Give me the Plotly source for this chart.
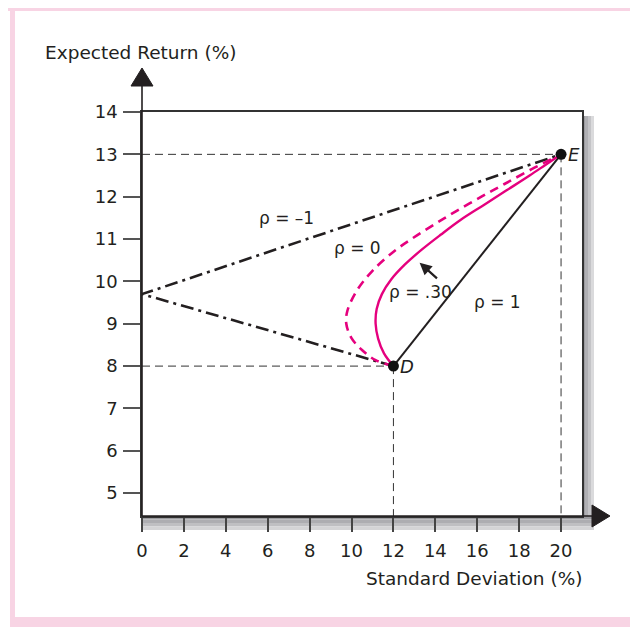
import plotly.graph_objects as go

# ---- data ----
asset_labels = ["D", "E"]
asset_sd = [12, 20]
asset_ret = [8, 13]

rho_neg1_sd = [12, 0, 20]
rho_neg1_ret = [8, 9.7, 13]

rho_pos1_sd = [12, 20]
rho_pos1_ret = [8, 13]

rho_0_sd = [12, 11.15, 10.5, 10.0, 9.75, 9.8, 10.25, 11.0, 12.05, 12.95, 14.0, 15.0, 16.2, 17.3, 18.6, 20]
rho_0_ret = [8, 8.14, 8.38, 8.66, 9.0, 9.3, 9.78, 10.25, 10.72, 11.03, 11.36, 11.66, 12.0, 12.3, 12.65, 13]

rho_03_sd = [12, 11.55, 11.27, 11.15, 11.2, 11.45, 11.9, 12.55, 13.35, 14.25, 15.2, 16.3, 17.4, 18.5, 19.25, 20]
rho_03_ret = [8, 8.3, 8.65, 9.0, 9.35, 9.7, 10.05, 10.4, 10.75, 11.1, 11.45, 11.8, 12.15, 12.5, 12.75, 13]

x_ticks = [0, 2, 4, 6, 8, 10, 12, 14, 16, 18, 20]
y_ticks = [5, 6, 7, 8, 9, 10, 11, 12, 13, 14]

x_title = "Standard Deviation (%)"
y_title = "Expected Return (%)"

FONT = "'DejaVu Sans', 'Noto Sans', sans-serif"
INK = "#231f20"
MAGENTA = "#e5007e"
PINK = "#f8d4e4"

# page offset (browser body margin)
O = 8
W, H = 630, 619
L, T = 142 - O, 112 - O
PW, PH = 440, 404
R = W - L - PW
B = H - T - PH
Y_LO = 14 - PH / 42.35


def px(xp):
    # reference page x pixel -> paper coordinate
    return (xp - 142) / PW


def py(yp):
    # reference page y pixel -> paper coordinate
    return (516 - yp) / PH


fig = go.Figure()

guide = dict(color="#333333", width=1, dash="8px,5px")
fig.add_trace(go.Scatter(x=[0, asset_sd[1]], y=[asset_ret[1], asset_ret[1]], mode="lines", line=guide, hoverinfo="skip"))
fig.add_trace(go.Scatter(x=[0, asset_sd[0]], y=[asset_ret[0], asset_ret[0]], mode="lines", line=guide, hoverinfo="skip"))
fig.add_trace(go.Scatter(x=[asset_sd[0], asset_sd[0]], y=[asset_ret[0], Y_LO], mode="lines", line=guide, hoverinfo="skip"))
fig.add_trace(go.Scatter(x=[asset_sd[1], asset_sd[1]], y=[asset_ret[1], Y_LO], mode="lines", line=guide, hoverinfo="skip"))

fig.add_trace(go.Scatter(x=rho_neg1_sd, y=rho_neg1_ret, mode="lines",
                         line=dict(color=INK, width=2.6, dash="13px,5px,3px,5px")))
fig.add_trace(go.Scatter(x=rho_pos1_sd, y=rho_pos1_ret, mode="lines",
                         line=dict(color=INK, width=2)))
fig.add_trace(go.Scatter(x=rho_0_sd, y=rho_0_ret, mode="lines",
                         line=dict(color=MAGENTA, width=2.6, dash="9px,6px", shape="spline", smoothing=1)))
fig.add_trace(go.Scatter(x=rho_03_sd, y=rho_03_ret, mode="lines",
                         line=dict(color=MAGENTA, width=2.4, shape="spline", smoothing=1)))
fig.add_trace(go.Scatter(x=asset_sd, y=asset_ret, mode="markers",
                         marker=dict(color="#111111", size=11), cliponaxis=False))

ann = []
for lab, sx, ry in zip(asset_labels, asset_sd, asset_ret):
    ann.append(dict(x=sx, y=ry, xref="x", yref="y", text="<i>%s</i>" % lab, showarrow=False,
                    xanchor="left", yanchor="middle", xshift=5, font=dict(size=18, color=INK, family=FONT)))

labels = [("ρ = –1", 6.9, 11.5), ("ρ = 0", 10.3, 10.79), ("ρ = .30", 13.3, 9.76), ("ρ = 1", 16.95, 9.51)]
for t, xx, yy in labels:
    ann.append(dict(x=xx, y=yy, xref="x", yref="y", text=t, showarrow=False,
                    font=dict(size=17, color=INK, family=FONT)))

ann.append(dict(x=13.25, y=10.44, ax=14.15, ay=10.04, xref="x", yref="y", axref="x", ayref="y",
                text="", showarrow=True, arrowhead=2, arrowsize=1.1, arrowwidth=2.2, arrowcolor=INK))

ann.append(dict(x=px(43), y=py(52), xref="paper", yref="paper", text=y_title, showarrow=False,
                xanchor="left", yanchor="middle", font=dict(size=18.5, color=INK, family=FONT)))
ann.append(dict(x=px(474), y=py(578), xref="paper", yref="paper", text=x_title, showarrow=False,
                xanchor="center", yanchor="middle", font=dict(size=18.5, color=INK, family=FONT)))

shapes = []
# pink frame (page coords)
for (x0, x1, y0, y1) in [(8, 640, 6, 11), (10, 15, 6, 627), (636, 640, 6, 627), (10, 640, 617, 630)]:
    shapes.append(dict(type="rect", xref="paper", yref="paper", x0=px(x0), x1=px(x1), y0=py(y1), y1=py(y0),
                       fillcolor=PINK, line=dict(width=0), layer="below"))
# right shadow
rc = ["#9c9ca0", "#b0b0b4", "#c4c4c7", "#dadadc"]
for i, c in enumerate(rc):
    shapes.append(dict(type="rect", xref="paper", yref="paper", x0=px(582 + 3 * i), x1=px(585 + 3 * i),
                       y0=py(516), y1=py(116), fillcolor=c, line=dict(width=0), layer="below"))
# bottom band
bc = ["#9c9ca0", "#adadb1", "#bfbfc2", "#d4d4d6"]
for i, c in enumerate(bc):
    shapes.append(dict(type="rect", xref="paper", yref="paper", x0=px(142), x1=px(594),
                       y0=py(516 + 3.5 * (i + 1)), y1=py(516 + 3.5 * i), fillcolor=c, line=dict(width=0), layer="below"))
# axis extensions
shapes.append(dict(type="line", xref="paper", yref="paper", x0=px(142), x1=px(142), y0=py(516), y1=py(84),
                   line=dict(color=INK, width=1.6)))
shapes.append(dict(type="line", xref="paper", yref="paper", x0=px(142), x1=px(594), y0=py(516), y1=py(516),
                   line=dict(color=INK, width=1.6)))
# arrow heads
shapes.append(dict(type="path", xref="paper", yref="paper",
                   path="M %f %f L %f %f L %f %f Z" % (px(131), py(86), px(153), py(86), px(142), py(68)),
                   fillcolor=INK, line=dict(color=INK, width=1)))
shapes.append(dict(type="path", xref="paper", yref="paper",
                   path="M %f %f L %f %f L %f %f Z" % (px(592), py(505), px(592), py(527), px(610), py(516)),
                   fillcolor=INK, line=dict(color=INK, width=1)))

fig.update_layout(
    width=W, height=H, margin=dict(l=L, r=R, t=T, b=B, pad=0),
    paper_bgcolor="white", plot_bgcolor="white", showlegend=False,
    font=dict(family=FONT, color=INK, size=18),
    annotations=ann, shapes=shapes,
)
fig.update_xaxes(range=[0, 21], tickvals=x_ticks, ticktext=[str(v) for v in x_ticks],
                 showgrid=False, zeroline=False, showline=True, mirror=True, linecolor="#333333", linewidth=1.5,
                 ticks="outside", ticklen=14, tickwidth=1.5, tickcolor="#444444", ticklabelstandoff=4,
                 tickfont=dict(size=18, color=INK, family=FONT), fixedrange=True)
fig.update_yaxes(range=[Y_LO, 14], tickvals=y_ticks, ticktext=[str(v) for v in y_ticks],
                 showgrid=False, zeroline=False, showline=True, mirror=True, linecolor="#333333", linewidth=1.5,
                 ticks="outside", ticklen=17, tickwidth=1.5, tickcolor="#555555", ticklabelstandoff=2,
                 tickfont=dict(size=18, color=INK, family=FONT), fixedrange=True)

fig.write_html("out.html")
